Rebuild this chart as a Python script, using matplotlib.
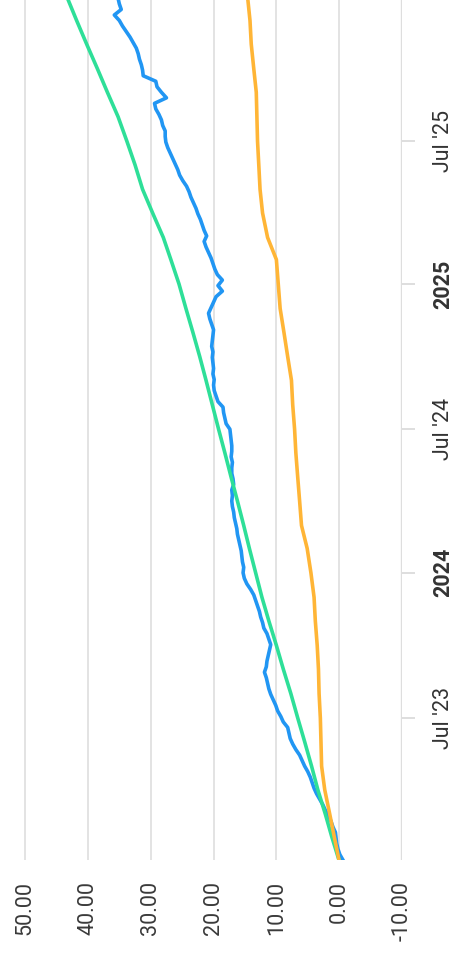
import pandas as pd
import matplotlib.pyplot as plt
import matplotlib.dates as mdates

# weekly portfolio return (%), starting 2023-01-02
blue_values = [
    -0.6, -0.1, 0.2, 0.4, 0.5, 0.6, 1.0, 1.3, 1.7, 2.2,
    2.6, 3.1, 3.6, 4.0, 4.3, 4.6, 5.0, 5.5, 5.9, 6.3,
    6.9, 7.4, 7.8, 8.0, 8.2, 8.9, 9.3, 9.8, 10.1, 10.5,
    10.9, 11.2, 11.4, 11.6, 11.9, 11.6, 11.5, 11.3, 11.1, 10.9,
    11.2, 11.5, 12.0, 12.2, 12.5, 12.7, 13.0, 13.3, 13.6, 14.1,
    14.7, 15.1, 15.3, 15.2, 15.4, 15.5, 15.6, 15.8, 16.0, 16.2,
    16.3, 16.5, 16.7, 16.8, 17.0, 17.1, 17.0, 17.1, 16.8, 16.9,
    17.1, 17.1, 17.0, 17.2, 17.1, 17.1, 17.2, 17.3, 17.4, 18.0,
    18.2, 18.4, 18.5, 19.3, 19.6, 19.9, 20.0, 19.9, 20.1, 20.0,
    20.1, 20.2, 20.1, 20.3, 20.2, 20.1, 20.0, 20.3, 20.6, 20.8,
    20.4, 20.0, 19.6, 18.6, 19.3, 18.6, 19.4, 19.8, 20.1, 20.4,
    20.8, 21.2, 21.5, 21.1, 21.5, 21.8, 22.1, 22.5, 22.8, 23.2,
    23.6, 23.9, 24.3, 24.9, 25.4, 25.7, 26.1, 26.5, 26.9, 27.3,
    27.6, 27.7, 27.7, 28.1, 28.3, 28.7, 29.2, 29.4, 27.5, 28.3,
    29.0, 29.2, 31.2, 31.3, 31.5, 31.8, 32.0, 32.3, 32.8, 33.3,
    33.9, 34.5, 35.0, 35.8, 34.7, 35.0, 35.2,
]

# monthly values, starting 2023-01-01
green_values = [
    0.0, 1.2, 2.2, 3.4, 4.4, 5.5, 6.6, 7.7, 8.9, 10.0, 11.2, 12.3,
    13.3, 14.3, 15.2, 16.2, 17.2, 18.2, 19.2, 20.2, 21.2, 22.2, 23.3, 24.4,
    25.5, 26.8, 28.0, 29.7, 31.3, 32.5, 33.8, 35.2, 36.9, 38.5, 40.2, 41.8,
    43.4,
]
orange_values = [
    0.0, 0.8, 1.5, 2.3, 2.8, 2.9, 3.0, 3.2, 3.3, 3.5, 3.8, 4.0,
    4.5, 5.1, 6.0, 6.3, 6.6, 6.9, 7.1, 7.4, 7.6, 8.2, 8.8, 9.4,
    9.7, 10.0, 11.4, 12.2, 12.6, 12.8, 13.0, 13.1, 13.2, 13.6, 14.0, 14.2,
    14.6,
]

value_ticks = [50, 40, 30, 20, 10, 0, -10]
date_ticks = ['2023-07-01', '2024-01-01', '2024-07-01', '2025-01-01', '2025-07-01']
date_labels = ["Jul '23", '2024', "Jul '24", '2025', "Jul '25"]

blue_dates = pd.date_range('2023-01-02', periods=len(blue_values), freq='7D')
month_dates = pd.date_range('2023-01-01', periods=len(green_values), freq='MS')

plt.rcParams['font.family'] = ['Roboto', 'DejaVu Sans']

fig = plt.figure(figsize=(4.54, 9.59), dpi=100)
ax = fig.add_axes([0, 99 / 959, 402 / 454, 860 / 959])

# chart is drawn turned on its side: values run right-to-left, time runs upward
ax.plot(blue_values, blue_dates, color='#2196F3', lw=2.6, zorder=3)
ax.plot(green_values, month_dates, color='#2EDF98', lw=2.6, zorder=4)
ax.plot(orange_values, month_dates, color='#FFB536', lw=2.6, zorder=5)

ax.set_xlim(54, -10)
ax.set_ylim(pd.Timestamp('2023-01-02'), pd.Timestamp('2025-12-27'))

for v in value_ticks[:-1]:
    ax.axvline(v, color='#e3e3e3', lw=1.4, zorder=1)
ax.axvline(-10, color='#dedede', lw=2.4, zorder=1)

for s in ax.spines.values():
    s.set_visible(False)

ax.set_xticks(value_ticks)
ax.set_xticklabels([f'{v:.2f}' for v in value_ticks], rotation=90,
                   ha='center', va='top', fontsize=15.5, color='#3a3a3a')
ax.tick_params(axis='x', length=0, pad=15)

ax.yaxis.tick_right()
ax.set_yticks([mdates.date2num(pd.Timestamp(d)) for d in date_ticks])
ax.set_yticklabels(date_labels, rotation=90, va='center', ha='left',
                   fontsize=15.5, color='#333333')
for lbl in ax.get_yticklabels():
    if lbl.get_text().isdigit():
        lbl.set_fontweight('bold')
ax.tick_params(axis='y', length=9, width=1.4, color='#dedede', pad=13)

fig.savefig('out.png', dpi=100, facecolor='white')
